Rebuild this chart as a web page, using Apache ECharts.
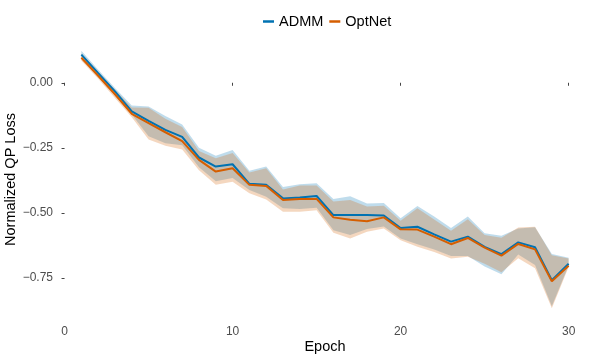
<!DOCTYPE html>
<html>
<head>
<meta charset="utf-8">
<script src="https://cdn.jsdelivr.net/npm/echarts@6/dist/echarts.min.js"></script>
<style>
  html, body { margin: 0; padding: 0; background: #fff; }
  #chart { width: 598px; height: 359px; }
</style>
</head>
<body>
<div id="chart"></div>
<script>
const epochs = [1,2,3,4,5,6,7,8,9,10,11,12,13,14,15,16,17,18,19,20,21,22,23,24,25,26,27,28,29,30];

const admm = [0.108, 0.037, -0.033, -0.110, -0.146, -0.181, -0.208, -0.287, -0.322, -0.313,
  -0.388, -0.392, -0.444, -0.441, -0.435, -0.508, -0.508, -0.508, -0.510, -0.558,
  -0.553, -0.582, -0.610, -0.591, -0.630, -0.658, -0.613, -0.632, -0.758, -0.695];
const admmUpper = [0.123, 0.050, -0.020, -0.087, -0.091, -0.128, -0.160, -0.250, -0.280, -0.258,
  -0.338, -0.322, -0.400, -0.390, -0.386, -0.446, -0.436, -0.464, -0.462, -0.520,
  -0.473, -0.514, -0.558, -0.514, -0.578, -0.588, -0.560, -0.555, -0.658, -0.672];
const admmLower = [0.094, 0.024, -0.048, -0.122, -0.205, -0.232, -0.240, -0.324, -0.378, -0.366,
  -0.412, -0.438, -0.482, -0.485, -0.480, -0.566, -0.585, -0.562, -0.552, -0.598,
  -0.620, -0.640, -0.665, -0.665, -0.706, -0.735, -0.660, -0.700, -0.858, -0.702];

const optnet = [0.096, 0.027, -0.044, -0.119, -0.155, -0.190, -0.224, -0.296, -0.341, -0.328,
  -0.392, -0.396, -0.450, -0.446, -0.446, -0.517, -0.526, -0.532, -0.517, -0.563,
  -0.564, -0.591, -0.620, -0.596, -0.633, -0.664, -0.619, -0.640, -0.762, -0.703];
const optnetUpper = [0.112, 0.042, -0.027, -0.095, -0.096, -0.138, -0.170, -0.262, -0.290, -0.270,
  -0.345, -0.328, -0.410, -0.395, -0.395, -0.456, -0.450, -0.475, -0.472, -0.530,
  -0.482, -0.525, -0.568, -0.524, -0.585, -0.595, -0.556, -0.553, -0.662, -0.675];
const optnetLower = [0.085, 0.015, -0.058, -0.132, -0.218, -0.242, -0.256, -0.336, -0.392, -0.380,
  -0.424, -0.448, -0.495, -0.495, -0.490, -0.576, -0.598, -0.572, -0.560, -0.605,
  -0.630, -0.650, -0.675, -0.668, -0.695, -0.728, -0.674, -0.712, -0.866, -0.708];

const xTicks = [0, 10, 20, 30];
const yTicks = [0, -0.25, -0.5, -0.75];

const BLUE = '#0072B2';
const ORANGE = '#D55E00';

const chart = echarts.init(document.getElementById('chart'));

// ribbon polygon drawn through the axis scales
function ribbon(name, upper, lower, fill) {
  return {
    name: name,
    type: 'custom',
    silent: true,
    z: 1,
    data: [[epochs[0], lower[0]]],
    renderItem: function (params, api) {
      const pts = [];
      for (let i = 0; i < epochs.length; i++) pts.push(api.coord([epochs[i], upper[i]]));
      for (let i = epochs.length - 1; i >= 0; i--) pts.push(api.coord([epochs[i], lower[i]]));
      return { type: 'polygon', shape: { points: pts }, style: { fill: fill } };
    }
  };
}

function fmt(v) {
  return v < 0 ? '\u2212' + (-v).toFixed(2) : v.toFixed(2);
}

const option = {
  animation: false,
  textStyle: { fontFamily: 'Liberation Sans' },
  legend: {
    data: ['ADMM', 'OptNet'],
    left: 258,
    top: 9,
    icon: 'rect',
    itemWidth: 11,
    itemHeight: 2.5,
    itemGap: 6,
    textStyle: { fontSize: 14.5, color: '#000', fontFamily: 'Liberation Sans' }
  },
  grid: { left: 57, right: 5, top: 38, bottom: 38, containLabel: false, outerBoundsMode: 'none' },
  xAxis: {
    type: 'value',
    min: -0.45,
    max: 31.45,
    name: 'Epoch',
    nameLocation: 'middle',
    nameGap: 18,
    nameMoveOverlap: false,
    nameTextStyle: { fontSize: 14.5, color: '#000' },
    axisLine: { show: false },
    splitLine: { show: false },
    axisTick: { show: true, customValues: xTicks, length: 3, lineStyle: { color: '#444', width: 1 } },
    axisLabel: { customValues: xTicks, color: '#4d4d4d', fontSize: 12, margin: 5 }
  },
  yAxis: {
    type: 'value',
    min: -0.915,
    max: 0.172,
    name: 'Normalized QP Loss',
    nameLocation: 'middle',
    nameRotate: 90,
    nameGap: 39,
    nameMoveOverlap: false,
    nameTextStyle: { fontSize: 14.5, color: '#000' },
    axisLine: { show: false },
    splitLine: { show: false },
    axisTick: { show: true, customValues: yTicks, length: 3, lineStyle: { color: '#444', width: 1 } },
    axisLabel: { customValues: yTicks, color: '#4d4d4d', fontSize: 12, margin: 4, formatter: fmt }
  },
  series: [
    ribbon('admmBand', admmUpper, admmLower, 'rgba(0,114,178,0.25)'),
    ribbon('optnetBand', optnetUpper, optnetLower, 'rgba(213,94,0,0.25)'),
    {
      name: 'ADMM',
      type: 'line',
      data: epochs.map((e, i) => [e, admm[i]]),
      showSymbol: false,
      symbol: 'none',
      z: 3,
      color: BLUE,
      lineStyle: { color: BLUE, width: 2 }
    },
    {
      name: 'OptNet',
      type: 'line',
      data: epochs.map((e, i) => [e, optnet[i]]),
      showSymbol: false,
      symbol: 'none',
      z: 4,
      color: ORANGE,
      lineStyle: { color: ORANGE, width: 2 }
    }
  ]
};

chart.setOption(option);
</script>
</body>
</html>
